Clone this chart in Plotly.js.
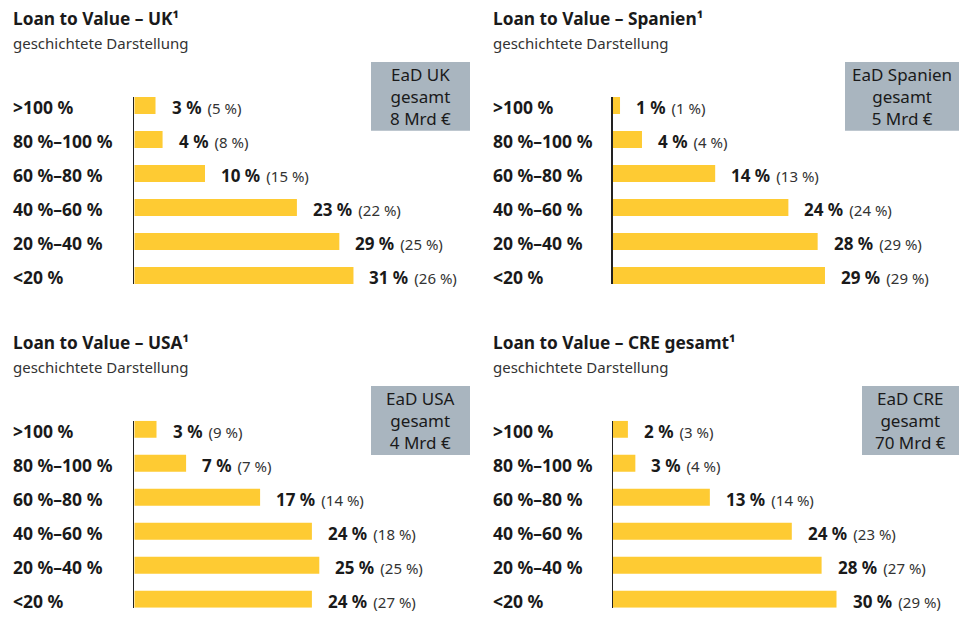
<!DOCTYPE html>
<html>
<head>
<meta charset="utf-8">
<script src="https://cdn.plot.ly/plotly-3.0.1.min.js"></script>
<style>html,body{margin:0;padding:0;background:#fff;}#chart{width:959px;height:634px;}</style>
</head>
<body>
<div id="chart"></div>
<script>
const categories = [">100 %", "80 %–100 %", "60 %–80 %", "40 %–60 %", "20 %–40 %", "<20 %"];

const ukValues  = [3, 4, 10, 23, 29, 31];
const ukPrior   = [5, 8, 15, 22, 25, 26];
const esValues  = [1, 4, 14, 24, 28, 29];
const esPrior   = [1, 4, 13, 24, 29, 29];
const usValues  = [3, 7, 17, 24, 25, 24];
const usPrior   = [9, 7, 14, 18, 25, 27];
const creValues = [2, 3, 13, 24, 28, 30];
const crePrior  = [3, 4, 14, 23, 27, 29];

const panelTitles = ["Loan to Value – UK¹", "Loan to Value – Spanien¹", "Loan to Value – USA¹", "Loan to Value – CRE gesamt¹"];
const subtitle = "geschichtete Darstellung";
const boxTexts = ["EaD UK<br>gesamt<br>8 Mrd €", "EaD Spanien<br>gesamt<br>5 Mrd €", "EaD USA<br>gesamt<br>4 Mrd €", "EaD CRE<br>gesamt<br>70 Mrd €"];

const W = 959, H = 634;
const FONT = "Noto Sans, Open Sans, sans-serif";
const BAR = "#fecb33";
const BOXC = "#a9b5bf";
const TXT = "#1a1a1a";

const panels = [
  {vals: ukValues,  prior: ukPrior,  axisX: 134.3, scale: 7.07, top: 97,    left: 11,  titleY: 18.5, subY: 42.5, box: [371, 62, 470, 130.7]},
  {vals: esValues,  prior: esPrior,  axisX: 612.7, scale: 7.32, top: 97,    left: 491, titleY: 18.5, subY: 42.5, box: [845, 62, 959, 130.7]},
  {vals: usValues,  prior: usPrior,  axisX: 134.3, scale: 7.40, top: 420.7, left: 11,  titleY: 342, subY: 366.5, box: [371, 386, 470, 455]},
  {vals: creValues, prior: crePrior, axisX: 613,   scale: 7.45, top: 420.7, left: 491, titleY: 342, subY: 366.5, box: [862, 386, 959, 455]}
];

const pct = v => v + " %";
const data = [];
const layout = {
  width: W, height: H,
  margin: {l: 0, r: 0, t: 0, b: 0},
  paper_bgcolor: "#fff", plot_bgcolor: "rgba(0,0,0,0)",
  showlegend: false,
  font: {family: FONT, color: TXT},
  annotations: [],
  shapes: []
};

const XMAX = 36;
const plotH = 187;

panels.forEach((p, i) => {
  const sfx = i === 0 ? "" : String(i + 1);
  const xa = "x" + sfx, ya = "y" + sfx;
  data.push({
    type: "bar", orientation: "h",
    x: p.vals, y: categories,
    xaxis: xa, yaxis: ya,
    width: 0.5,
    marker: {color: BAR, line: {width: 0}},
    hoverinfo: "skip"
  });
  const x0 = p.axisX / W, x1 = (p.axisX + XMAX * p.scale) / W;
  const yTop = 1 - p.top / H, yBot = 1 - (p.top + plotH) / H;
  layout["xaxis" + sfx] = {
    domain: [x0, x1], range: [0, XMAX], visible: false, anchor: ya, fixedrange: true
  };
  layout["yaxis" + sfx] = {
    domain: [yBot, yTop], type: "category", range: [5.25, -0.25],
    showticklabels: false, showgrid: false, zeroline: false,
    showline: true, linecolor: "#222", linewidth: 1.3, ticks: "",
    anchor: xa, fixedrange: true
  };
  layout.annotations.push({
    xref: "paper", yref: "paper", x: p.left / W, y: 1 - p.titleY / H,
    xanchor: "left", yanchor: "middle", showarrow: false,
    text: "<b>" + panelTitles[i] + "</b>", font: {size: 17.3, color: TXT}
  });
  layout.annotations.push({
    xref: "paper", yref: "paper", x: p.left / W, y: 1 - p.subY / H,
    xanchor: "left", yanchor: "middle", showarrow: false,
    text: subtitle, font: {size: 15, color: "#333"}
  });
  categories.forEach((c, k) => {
    layout.annotations.push({
      xref: "paper", yref: ya, x: p.left / W, y: c,
      xanchor: "left", yanchor: "middle", showarrow: false, yshift: -2,
      text: "<b>" + c + "</b>", font: {size: 17.5, color: TXT}
    });
    layout.annotations.push({
      xref: xa, yref: ya, x: p.vals[k], y: c,
      xanchor: "left", yanchor: "middle", showarrow: false, xshift: 14, yshift: -2,
      text: "<b>" + pct(p.vals[k]) + "</b> \u200A<span style='font-size:15px;color:#333'>(" + pct(p.prior[k]) + ")</span>",
      font: {size: 17, color: TXT}
    });
  });
  const b = p.box;
  layout.shapes.push({
    type: "rect", xref: "paper", yref: "paper",
    x0: b[0] / W, x1: b[2] / W, y0: 1 - b[3] / H, y1: 1 - b[1] / H,
    fillcolor: BOXC, line: {width: 0}, layer: "below"
  });
  layout.annotations.push({
    xref: "paper", yref: "paper", x: (b[0] + b[2]) / 2 / W, y: 1 - (b[1] + b[3]) / 2 / H,
    xanchor: "center", yanchor: "middle", showarrow: false, align: "center",
    text: boxTexts[i], font: {size: 17, color: TXT}
  });
});

Plotly.newPlot("chart", data, layout, {displayModeBar: false, staticPlot: true});
</script>
</body>
</html>
